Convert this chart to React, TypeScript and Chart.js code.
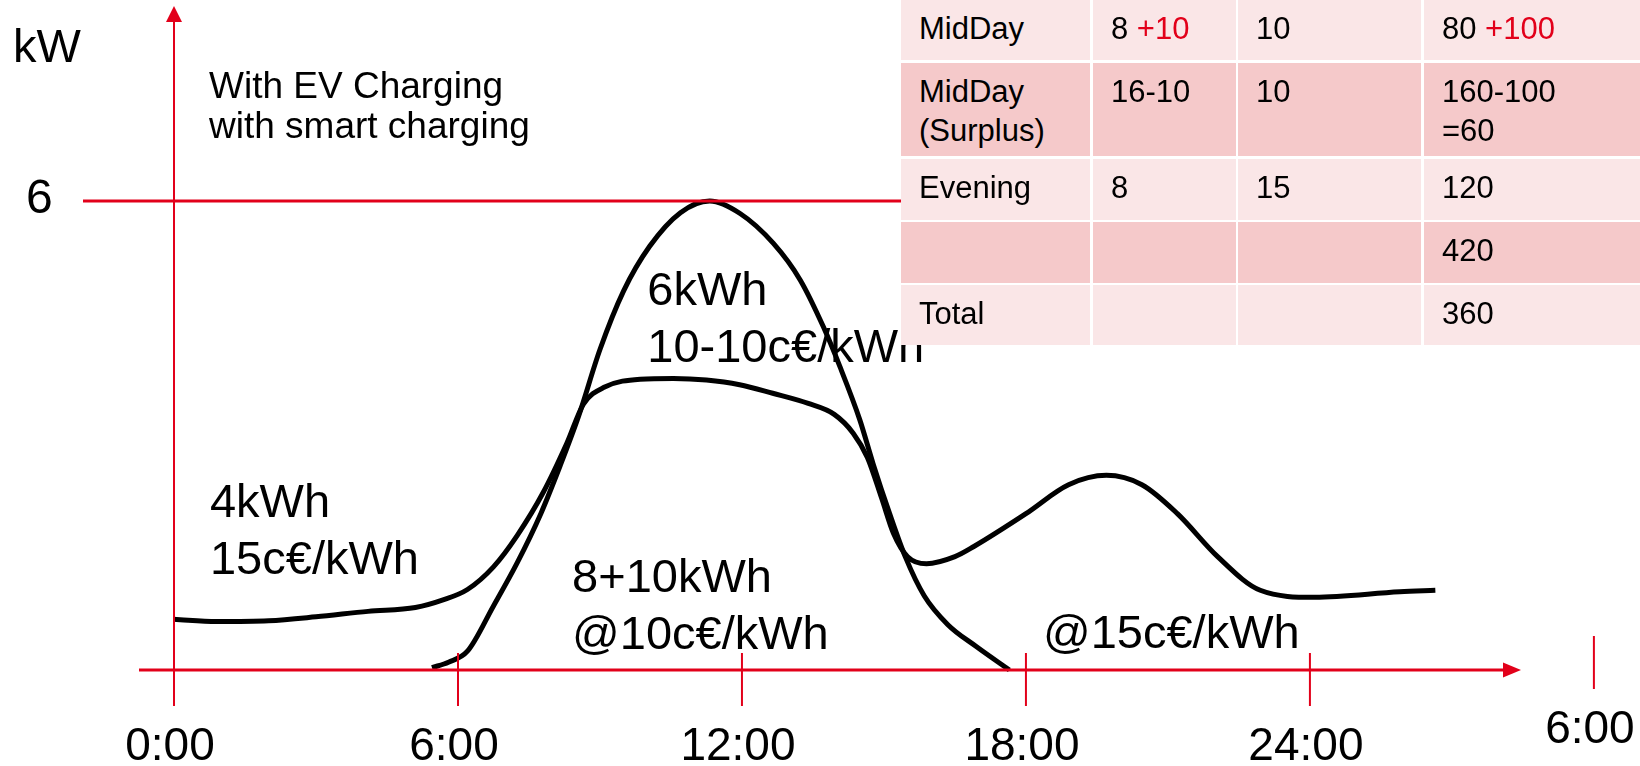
import React, { useEffect, useRef } from "react";
import { Chart, registerables } from "chart.js";

Chart.register(...registerables);

// ---------- DATA ----------
// Household load with EV smart charging (hour of day, kW)
const LOAD_HOURS = [0, 0.9, 2.0, 3.0, 4.1, 5.1, 5.7, 6.2, 6.75, 7.25, 7.8, 8.3, 8.65, 9.1, 9.85, 10.55, 11.25, 11.95, 12.65, 13.4, 13.95, 14.35, 14.65, 14.95, 15.2, 15.5, 15.9, 16.5, 16.9, 18.0, 18.9, 19.7, 20.45, 21.2, 22.05, 22.95, 24.1, 25.9, 26.65];
const LOAD_KW = [0.65, 0.62, 0.63, 0.68, 0.75, 0.8, 0.9, 1.03, 1.32, 1.72, 2.27, 2.9, 3.4, 3.62, 3.72, 3.73, 3.71, 3.65, 3.54, 3.41, 3.27, 3.03, 2.72, 2.2, 1.75, 1.45, 1.36, 1.45, 1.58, 2.0, 2.37, 2.49, 2.37, 2.0, 1.45, 1.02, 0.93, 1.0, 1.02];

// PV production (hour of day, kW)
const PV_HOURS = [5.45, 5.8, 6.2, 6.75, 7.25, 7.75, 8.15, 8.55, 9.0, 9.5, 10.05, 10.7, 11.32, 11.96, 12.66, 13.23, 13.72, 14.07, 14.49, 14.77, 15.12, 15.45, 15.85, 16.35, 16.95, 17.65];
const PV_KW = [0.03, 0.1, 0.24, 0.82, 1.37, 2.0, 2.6, 3.25, 4.1, 4.85, 5.42, 5.85, 6.0, 5.84, 5.46, 4.99, 4.39, 3.88, 3.2, 2.64, 2.0, 1.45, 0.95, 0.58, 0.3, 0.0];

const TICK_HOURS = [0, 6, 12, 18, 24, 30];
const TICK_LABELS = ["0:00", "6:00", "12:00", "18:00", "24:00", "6:00"];
const X_AXIS_END_HOUR = 28.46;
const Y_MARK_KW = 6;
const Y_MARK_LABEL = "6";
const Y_UNIT = "kW";

const TITLE_LINES = ["With EV Charging", "with smart charging"];
const NOTE_MORNING = ["4kWh", "15c€/kWh"];
const NOTE_SURPLUS = ["6kWh", "10-10c€/kWh"];
const NOTE_MIDDAY = ["8+10kWh", "@10c€/kWh"];
const NOTE_EVENING = ["@15c€/kWh"];

// Cost table
const TABLE_PERIOD = ["MidDay", "MidDay\n(Surplus)", "Evening", "", "Total"];
const TABLE_KWH = ["8", "16-10", "8", "", ""];
const TABLE_KWH_EXTRA = ["+10", "", "", "", ""];
const TABLE_PRICE = ["10", "10", "15", "", ""];
const TABLE_COST = ["80", "160-100\n=60", "120", "420", "360"];
const TABLE_COST_EXTRA = ["+100", "", "", "", ""];

// ---------- LAYOUT / STYLE ----------
const W = 1640;
const H = 766;
const ORIGIN_X = 174;
const ORIGIN_Y = 670;
const PX_PER_HOUR = 47.33;
const PX_PER_KW = 78.17;
const RED = "#e2001a";
const FONT = '"Liberation Sans", Arial, Helvetica, sans-serif';

// annotation anchors (hour, kW) of first-line baseline, left aligned
const NOTE_POS = {
  morning: [0.76, 1.96],
  surplus: [10.0, 4.67],
  midday: [8.41, 1.0],
  evening: [18.36, 0.28],
};
const NOTE_LINE_GAP = 57;

const COL_LEFT = [901, 1093, 1238, 1424];
const COL_W = [189, 142.5, 183, 216];
const ROW_TOP = [0, 63, 158.5, 222, 285];
const ROW_H = [60, 93, 61, 60.5, 60];
const ROW_BG = ["#fae6e7", "#f5c9ca"];

const overlayPlugin = {
  id: "slideOverlay",
  afterDatasetsDraw(chart: any) {
    const { ctx, scales } = chart;
    const xs = scales.x;
    const ys = scales.y;
    const px = (h: number) => xs.getPixelForValue(h);
    const py = (k: number) => ys.getPixelForValue(k);
    const x0 = px(0);
    const y0 = py(0);
    ctx.save();
    ctx.strokeStyle = RED;
    ctx.fillStyle = RED;
    ctx.lineCap = "butt";

    // 6 kW reference line
    ctx.lineWidth = 3;
    ctx.beginPath();
    ctx.moveTo(x0 - 91, py(Y_MARK_KW));
    ctx.lineTo(px(19), py(Y_MARK_KW));
    ctx.stroke();

    // y axis
    ctx.lineWidth = 2;
    ctx.beginPath();
    ctx.moveTo(x0, y0 + 36);
    ctx.lineTo(x0, 18);
    ctx.stroke();
    ctx.beginPath();
    ctx.moveTo(x0, 6);
    ctx.lineTo(x0 - 8, 22);
    ctx.lineTo(x0 + 8, 22);
    ctx.closePath();
    ctx.fill();

    // x axis
    const xEnd = px(X_AXIS_END_HOUR);
    ctx.lineWidth = 3;
    ctx.beginPath();
    ctx.moveTo(x0 - 35, y0);
    ctx.lineTo(xEnd - 14, y0);
    ctx.stroke();
    ctx.beginPath();
    ctx.moveTo(xEnd, y0);
    ctx.lineTo(xEnd - 18, y0 - 7.5);
    ctx.lineTo(xEnd - 18, y0 + 7.5);
    ctx.closePath();
    ctx.fill();

    // ticks + labels
    ctx.lineWidth = 2;
    ctx.font = `46px ${FONT}`;
    ctx.textAlign = "center";
    ctx.textBaseline = "alphabetic";
    TICK_HOURS.forEach((h, i) => {
      const lift = i === TICK_HOURS.length - 1 ? 17 : 0;
      const tx = px(h);
      ctx.strokeStyle = RED;
      ctx.beginPath();
      ctx.moveTo(tx, y0 - 17 - lift);
      ctx.lineTo(tx, y0 + 36 - lift);
      ctx.stroke();
      ctx.fillStyle = "#000";
      ctx.fillText(TICK_LABELS[i], tx - 4, y0 + 90 - lift);
    });

    // y labels
    ctx.fillStyle = "#000";
    ctx.textAlign = "left";
    ctx.font = `47px ${FONT}`;
    ctx.fillText(Y_UNIT, x0 - 161, 62);
    ctx.font = `48px ${FONT}`;
    ctx.fillText(Y_MARK_LABEL, x0 - 148, py(Y_MARK_KW) + 12);

    // title
    ctx.font = `37px ${FONT}`;
    TITLE_LINES.forEach((t, i) => ctx.fillText(t, x0 + 35, 98 + i * 40));

    // notes
    ctx.font = `47px ${FONT}`;
    const drawNote = (lines: string[], pos: number[]) => {
      lines.forEach((t, i) => ctx.fillText(t, px(pos[0]), py(pos[1]) + i * NOTE_LINE_GAP));
    };
    drawNote(NOTE_MORNING, NOTE_POS.morning);
    drawNote(NOTE_SURPLUS, NOTE_POS.surplus);
    drawNote(NOTE_MIDDAY, NOTE_POS.midday);
    drawNote(NOTE_EVENING, NOTE_POS.evening);

    ctx.restore();
  },
};

function CostTable() {
  const cols = [
    { main: TABLE_PERIOD, extra: null as string[] | null },
    { main: TABLE_KWH, extra: TABLE_KWH_EXTRA },
    { main: TABLE_PRICE, extra: null },
    { main: TABLE_COST, extra: TABLE_COST_EXTRA },
  ];
  const cells: React.ReactNode[] = [];
  TABLE_PERIOD.forEach((_, r) => {
    cols.forEach((col, c) => {
      const extra = col.extra ? col.extra[r] : "";
      cells.push(
        <div
          key={`${r}-${c}`}
          style={{
            position: "absolute",
            left: COL_LEFT[c],
            top: ROW_TOP[r],
            width: COL_W[c],
            height: ROW_H[r],
            background: ROW_BG[r % 2],
            boxSizing: "border-box",
            padding: "9px 0 0 18px",
            fontFamily: FONT,
            fontSize: 31,
            lineHeight: "39px",
            color: "#000",
            whiteSpace: "pre-line",
            overflow: "hidden",
          }}
        >
          {col.main[r]}
          {extra ? <span style={{ color: RED }}>{" " + extra}</span> : null}
        </div>
      );
    });
  });
  return <>{cells}</>;
}

export default function App() {
  const canvasRef = useRef<HTMLCanvasElement | null>(null);

  useEffect(() => {
    if (!canvasRef.current) return;
    const chart = new Chart(canvasRef.current, {
      type: "line",
      data: {
        datasets: [
          {
            label: "Load with smart EV charging",
            data: LOAD_HOURS.map((h, i) => ({ x: h, y: LOAD_KW[i] })),
            borderColor: "#000",
            borderWidth: 5,
            pointRadius: 0,
            fill: false,
            cubicInterpolationMode: "monotone",
          },
          {
            label: "PV production",
            data: PV_HOURS.map((h, i) => ({ x: h, y: PV_KW[i] })),
            borderColor: "#000",
            borderWidth: 5,
            pointRadius: 0,
            fill: false,
            cubicInterpolationMode: "monotone",
          },
        ],
      },
      options: {
        animation: false,
        responsive: false,
        maintainAspectRatio: false,
        layout: { padding: 0 },
        plugins: { legend: { display: false }, tooltip: { enabled: false } },
        events: [],
        scales: {
          x: {
            type: "linear",
            display: false,
            min: -ORIGIN_X / PX_PER_HOUR,
            max: (W - ORIGIN_X) / PX_PER_HOUR,
          },
          y: {
            type: "linear",
            display: false,
            min: -(H - ORIGIN_Y) / PX_PER_KW,
            max: ORIGIN_Y / PX_PER_KW,
          },
        },
      },
      plugins: [overlayPlugin],
    } as any);
    return () => chart.destroy();
  }, []);

  return (
    <div
      style={{
        position: "fixed",
        left: 0,
        top: 0,
        width: W,
        height: H,
        overflow: "hidden",
        background: "#fff",
      }}
    >
      <canvas
        ref={canvasRef}
        width={W}
        height={H}
        style={{ position: "absolute", left: 0, top: 0, width: W, height: H }}
      />
      <div style={{ position: "absolute", left: 0, top: 0, width: W, height: H, pointerEvents: "none" }}>
        <CostTable />
      </div>
    </div>
  );
}
